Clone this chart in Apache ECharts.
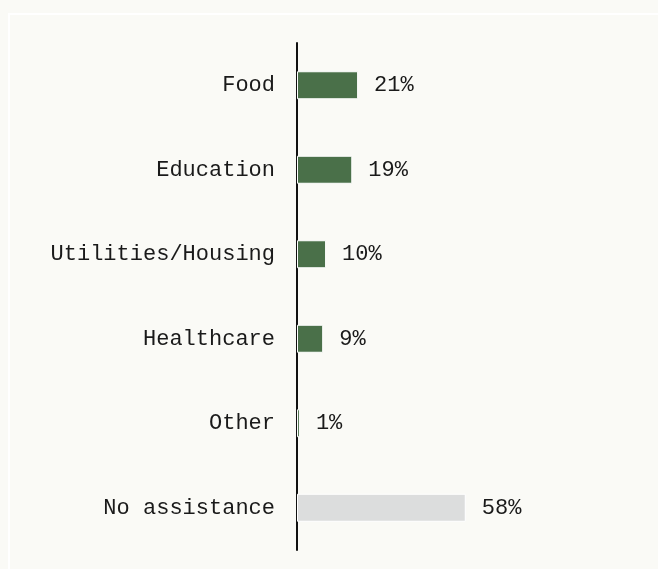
<!DOCTYPE html>
<html>
<head>
<meta charset="utf-8">
<script src="https://cdn.jsdelivr.net/npm/echarts@6/dist/echarts.min.js"></script>
<style>
  html, body { margin: 0; padding: 0; background: #fafaf6; }
  #chart { width: 658px; height: 569px; }
</style>
</head>
<body>
<div id="chart"></div>
<script>
// categories top to bottom
var categories = ['Food', 'Education', 'Utilities/Housing', 'Healthcare', 'Other', 'No assistance'];
var shares = [21, 19, 10, 9, 1, 58];
var barColors = ['#4a7049', '#4a7049', '#4a7049', '#4a7049', '#4a7049', '#dcdddd'];

var myChart = echarts.init(document.getElementById('chart'));

myChart.setOption({
    backgroundColor: '#fafaf6',
    textStyle: { fontFamily: 'Liberation Mono' },
    graphic: [
        {
            type: 'rect',
            shape: { x: 9, y: 14, width: 660, height: 600 },
            style: { fill: null, stroke: '#ffffff', lineWidth: 2 },
            silent: true
        }
    ],
    grid: { left: 297, top: 43, width: 291, height: 507 },
    xAxis: {
        type: 'value',
        min: 0,
        max: 100,
        show: false
    },
    yAxis: {
        type: 'category',
        data: categories,
        inverse: true,
        axisLine: { show: true, lineStyle: { color: '#111', width: 2 } },
        axisTick: { show: false },
        axisLabel: {
            color: '#1a1a1a',
            fontSize: 22,
            margin: 22,
            fontFamily: 'Liberation Mono'
        }
    },
    series: [
        {
            type: 'bar',
            barWidth: 28,
            data: shares.map(function (v, i) {
                return { value: v, itemStyle: { color: barColors[i] } };
            }),
            itemStyle: { borderColor: '#ffffff', borderWidth: 1 },
            label: {
                show: true,
                position: 'right',
                distance: 16,
                color: '#1a1a1a',
                fontSize: 22,
                fontFamily: 'Liberation Mono',
                formatter: '{c}%'
            },
            silent: true
        }
    ]
});
</script>
</body>
</html>
